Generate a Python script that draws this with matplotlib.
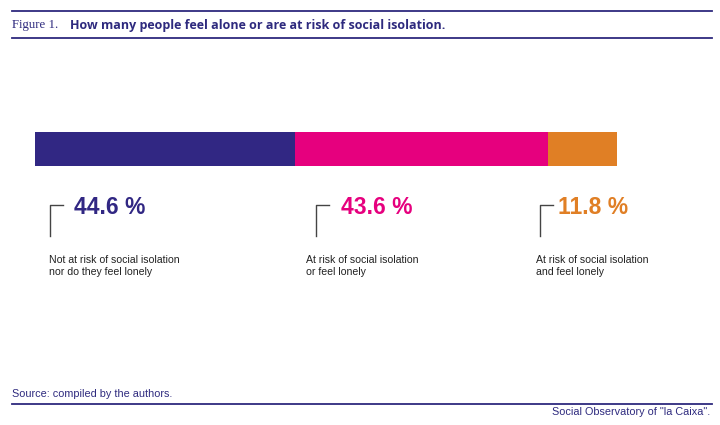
import numpy as np
import matplotlib
matplotlib.use('Agg')
import matplotlib.pyplot as plt
from matplotlib.lines import Line2D

# data
categories = ['Not at risk of social isolation\nnor do they feel lonely',
              'At risk of social isolation\nor feel lonely',
              'At risk of social isolation\nand feel lonely']
values = [44.6, 43.6, 11.8]
colors = ['#312783', '#e6007e', '#e07f25']

navy = '#2e2a7e'
W, H = 720, 425

fig = plt.figure(figsize=(W / 100, H / 100), dpi=100)

def fx(px):
    return px / W

def fy(py):
    return 1 - py / H

# header / footer rules
for y in [11, 38, 404]:
    fig.add_artist(Line2D([fx(12), fx(712)], [fy(y), fy(y)], color=navy, lw=1.3))

fig.text(fx(12), fy(25), 'Figure 1.', family='Liberation Serif', fontsize=9.2,
         color=navy, va='center', ha='left')
fig.text(fx(70), fy(25), 'How many people feel alone or are at risk of social isolation.',
         family='Open Sans', fontweight='bold', fontsize=9.0, color=navy, va='center', ha='left')

fig.text(fx(12), fy(394), 'Source: compiled by the authors.', family='Liberation Sans',
         fontsize=7.8, color=navy, va='center', ha='left')
fig.text(fx(710), fy(412), 'Social Observatory of "la Caixa".', family='Liberation Sans',
         fontsize=7.8, color=navy, va='center', ha='right')

# stacked bar
ax = fig.add_axes([fx(35), fy(166), fx(617) - fx(35), (166 - 132) / H])
lefts = np.concatenate([[0], np.cumsum(values)[:-1]])
ax.barh([0], values, left=lefts, color=colors, height=1.0, edgecolor='none')
ax.set_xlim(0, sum(values))
ax.set_ylim(-0.5, 0.5)
ax.axis('off')

# labels below the bar
bracket_x = [50, 316, 540]
pct_x = [74, 341, 558]
text_x = [49, 306, 536]
for i, (cat, val, col) in enumerate(zip(categories, values, colors)):
    bx = bracket_x[i]
    fig.add_artist(Line2D([fx(bx), fx(bx), fx(bx + 13)], [fy(236), fy(205), fy(205)],
                          color='#444444', lw=1.0))
    fig.text(fx(pct_x[i]), fy(207), '%.1f %%' % val, family='Liberation Sans',
             fontweight='bold', fontsize=16.5, color=col, va='center', ha='left')
    fig.text(fx(text_x[i]), fy(266), cat, family='Liberation Sans', fontsize=7.6,
             color='#222222', va='center', ha='left', linespacing=1.3)

fig.savefig('out.png', dpi=100)
